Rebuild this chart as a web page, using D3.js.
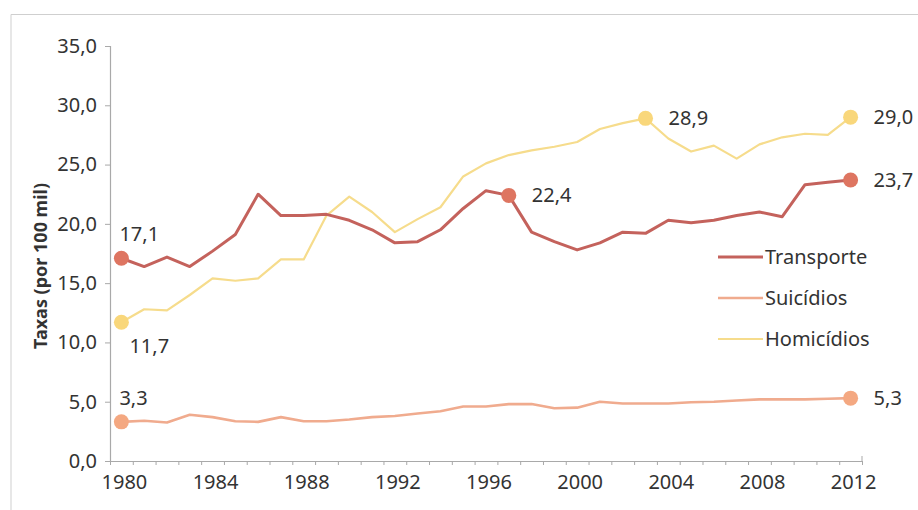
<!DOCTYPE html>
<html>
<head>
<meta charset="utf-8">
<script src="https://cdn.jsdelivr.net/npm/d3@7"></script>
<style>
  html, body { margin: 0; padding: 0; background: #ffffff; }
  svg { display: block; }
  text { font-family: "Noto Sans", "Open Sans", sans-serif; fill: #333333; }
</style>
</head>
<body>
<svg id="chart" width="918" height="510"></svg>
<script>
// Taxas de mortalidade por causas externas, por 100 mil habitantes
const years = [1980, 1981, 1982, 1983, 1984, 1985, 1986, 1987, 1988, 1989,
               1990, 1991, 1992, 1993, 1994, 1995, 1996, 1997, 1998, 1999,
               2000, 2001, 2002, 2003, 2004, 2005, 2006, 2007, 2008, 2009,
               2010, 2011, 2012];

const transporte = [17.1, 16.4, 17.2, 16.4, 17.7, 19.1, 22.5, 20.7, 20.7, 20.8,
                    20.3, 19.5, 18.4, 18.5, 19.5, 21.3, 22.8, 22.4, 19.3, 18.5,
                    17.8, 18.4, 19.3, 19.2, 20.3, 20.1, 20.3, 20.7, 21.0, 20.6,
                    23.3, 23.5, 23.7];

const suicidios = [3.3, 3.4, 3.25, 3.9, 3.7, 3.35, 3.3, 3.7, 3.35, 3.35,
                   3.5, 3.7, 3.8, 4.0, 4.2, 4.6, 4.6, 4.8, 4.8, 4.45,
                   4.5, 5.0, 4.85, 4.85, 4.85, 4.95, 5.0, 5.1, 5.2, 5.2,
                   5.2, 5.25, 5.3];

const homicidios = [11.7, 12.8, 12.7, 14.0, 15.4, 15.2, 15.4, 17.0, 17.0, 20.7,
                    22.3, 21.0, 19.3, 20.4, 21.4, 24.0, 25.1, 25.8, 26.2, 26.5,
                    26.9, 28.0, 28.5, 28.9, 27.2, 26.1, 26.6, 25.5, 26.7, 27.3,
                    27.6, 27.5, 29.0];

const seriesNames = ["Transporte", "Suicídios", "Homicídios"];

// years whose values are marked with a dot and a label
const markedTransporte = [1980, 1997, 2012];
const markedSuicidios = [1980, 2012];
const markedHomicidios = [1980, 2003, 2012];

const yTicks = [0, 5, 10, 15, 20, 25, 30, 35];
const xTickLabels = [1980, 1984, 1988, 1992, 1996, 2000, 2004, 2008, 2012];
const yTitle = "Taxas (por 100 mil)";

// ---- drawing ----
const svg = d3.select("#chart");
const fmt = d3.formatLocale({ decimal: ",", thousands: ".", grouping: [3], currency: ["R$", ""] }).format(".1f");

// category axis: each year sits in the middle of its slot
const x = d3.scaleLinear().domain([1979.5, 2012.5]).range([110, 862]);
const y = d3.scaleLinear().domain([0, 35]).range([461, 46]);

const axisColor = "#a9a9a9";

// outer frame
svg.append("path")
  .attr("d", "M11,510 L11,14.5 L918,14.5")
  .attr("fill", "none")
  .attr("stroke", "#cfcfcf")
  .attr("stroke-width", 1);

// y axis
const yAxis = svg.append("g")
  .attr("transform", `translate(${x(1979.5)},0)`)
  .call(d3.axisLeft(y).tickValues(yTicks).tickFormat(fmt).tickSize(5).tickPadding(8));
yAxis.select(".domain").attr("stroke", axisColor).attr("stroke-width", 1.2);
yAxis.selectAll(".tick line").attr("stroke", axisColor);
yAxis.selectAll(".tick text")
  .attr("font-size", 20)
  .attr("fill", "#333");

// x axis: a tick at every slot boundary, labels every four years
const boundaries = d3.range(years[0] - 0.5, years[years.length - 1] + 1, 1);
const xAxis = svg.append("g")
  .attr("transform", `translate(0,${y(0)})`)
  .call(d3.axisBottom(x).tickValues(boundaries).tickFormat("").tickSizeInner(4).tickSizeOuter(0));
xAxis.select(".domain").attr("stroke", axisColor).attr("stroke-width", 1.2);
xAxis.selectAll(".tick line").attr("stroke", axisColor);
// short upward mark closing the right end of the axis
svg.append("line")
  .attr("x1", x(2012.5)).attr("x2", x(2012.5))
  .attr("y1", y(0)).attr("y2", y(0) - 5)
  .attr("stroke", axisColor);

svg.append("g")
  .selectAll("text")
  .data(xTickLabels)
  .join("text")
  .attr("x", d => x(d) + 3)
  .attr("y", y(0) + 28)
  .attr("text-anchor", "middle")
  .attr("font-size", 20)
  .text(d => d);

// y axis title
svg.append("text")
  .attr("transform", `translate(47,266) rotate(-90)`)
  .attr("text-anchor", "middle")
  .attr("font-size", 18)
  .attr("font-weight", "bold")
  .attr("fill", "#333")
  .text(yTitle);

// series
const series = [
  { name: seriesNames[0], values: transporte, marked: markedTransporte,
    color: "#c4625c", dot: "#de7561", width: 3 },
  { name: seriesNames[1], values: suicidios, marked: markedSuicidios,
    color: "#f0ab8e", dot: "#f4a881", width: 2.6 },
  { name: seriesNames[2], values: homicidios, marked: markedHomicidios,
    color: "#f6dc8c", dot: "#f9d77b", width: 2.2 }
];

const line = d3.line()
  .x((d, i) => x(years[i]))
  .y(d => y(d));

// draw in reverse so Transporte sits on top
series.slice().reverse().forEach(s => {
  svg.append("path")
    .datum(s.values)
    .attr("fill", "none")
    .attr("stroke", s.color)
    .attr("stroke-width", s.width)
    .attr("stroke-linejoin", "round")
    .attr("d", line);
});

series.forEach(s => {
  s.marked.forEach(yr => {
    const v = s.values[years.indexOf(yr)];
    const cx = x(yr), cy = y(v);
    svg.append("circle")
      .attr("cx", cx).attr("cy", cy).attr("r", 7.5)
      .attr("fill", s.dot);

    let tx, ty;
    if (yr === years[0]) {
      // first-year labels sit above, except Homicídios which sits below
      const below = s.name === seriesNames[2];
      tx = below ? cx + 8 : cx - 2;
      ty = below ? cy + 31 : cy - 17;
    } else {
      tx = cx + 23;
      ty = cy + 7;
    }
    svg.append("text")
      .attr("x", tx).attr("y", ty)
      .attr("font-size", 20)
      .attr("fill", "#2a2a2a")
      .text(fmt(v));
  });
});

// legend
const legend = svg.append("g").attr("transform", "translate(718,257)");
series.forEach((s, i) => {
  const g = legend.append("g").attr("transform", `translate(0,${i * 41})`);
  g.append("line")
    .attr("x1", 0).attr("x2", 45)
    .attr("stroke", s.color)
    .attr("stroke-width", s.width);
  g.append("text")
    .attr("x", 47).attr("y", 7)
    .attr("font-size", 20)
    .text(s.name);
});
</script>
</body>
</html>
